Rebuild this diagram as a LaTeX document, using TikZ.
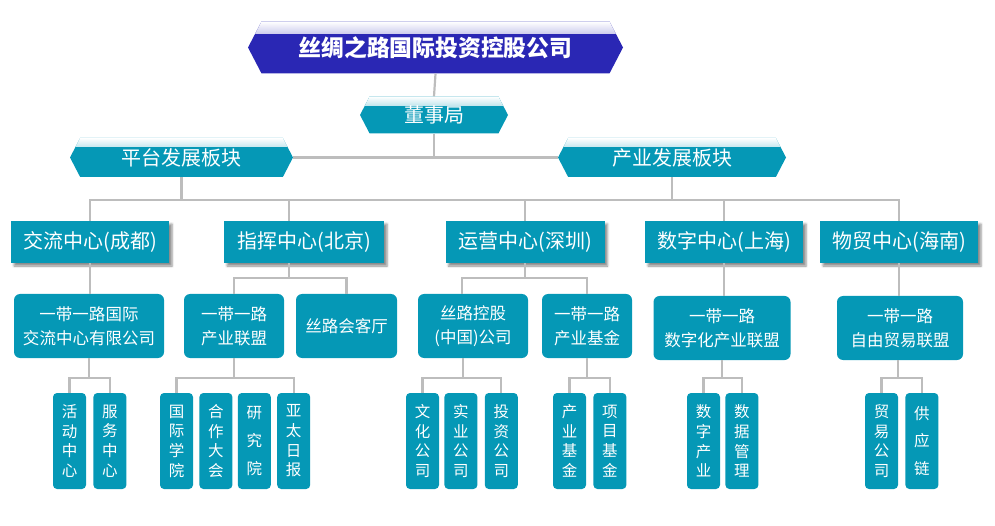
\documentclass[tikz,border=0pt]{standalone}
\usepackage{fontspec}
\setmainfont{Noto Sans CJK SC}
\usetikzlibrary{positioning,shapes.symbols,shadows.blur}
\definecolor{SilkTeal}{HTML}{0598B6}
\definecolor{SilkNavy}{HTML}{2A27B4}
\definecolor{SilkLine}{HTML}{BDBDBD}

\begin{document}
\begin{tikzpicture}[x=1pt, y=-1pt, every node/.style={text=white, inner sep=0pt},
    hexbox/.style={shape=signal, signal to=east and west, signal pointer angle=125, fill=SilkTeal, font=\fontsize{20}{22}\selectfont,
      path picture={\shade[top color=white, bottom color=SilkTeal] (path picture bounding box.north west) rectangle ([yshift=-9pt]path picture bounding box.north east);}},
    centerbox/.style={fill=SilkTeal, minimum height=42pt, font=\fontsize{20}{22}\selectfont,
      blur shadow={shadow xshift=3pt, shadow yshift=-3pt, shadow blur steps=4, shadow opacity=45}},
    subbox/.style={fill=SilkTeal, rounded corners=6pt, minimum height=64pt, align=center, font=\fontsize{16.5}{24}\selectfont},
    leafbox/.style={fill=SilkTeal, rounded corners=4pt, minimum width=33pt, minimum height=96pt, align=center, font=\fontsize{15.5}{19.7}\selectfont},
    link/.style={draw=SilkLine, line width=2.2pt}]
  \useasboundingbox (0,0) rectangle (995,526);

  \node[shape=signal, signal to=east and west, signal pointer angle=125, fill=SilkNavy, minimum width=375pt, minimum height=52pt, font=\fontsize{22.8}{26}\selectfont\bfseries,
    path picture={\shade[top color=white, bottom color=SilkNavy] (path picture bounding box.north west) rectangle ([yshift=-12pt]path picture bounding box.north east);}] (hq) at (435.5,47.5) {丝绸之路国际投资控股公司};
  \node[hexbox, minimum width=148pt, minimum height=37pt] (board) at (434,115) {董事局};
  \node[hexbox, minimum width=223pt, minimum height=39pt] (plat) at (181.5,157.5) {平台发展板块};
  \node[hexbox, minimum width=228pt, minimum height=39pt] (ind) at (672,157.5) {产业发展板块};

  \node[centerbox, minimum width=158pt] (jl) at (90,242) {交流中心(成都)};
  \node[centerbox, minimum width=160pt] (zh) at (304,242) {指挥中心(北京)};
  \node[centerbox, minimum width=159pt] (yy) at (525,242) {运营中心(深圳)};
  \node[centerbox, minimum width=158pt] (sz) at (724,242) {数字中心(上海)};
  \node[centerbox, minimum width=158pt] (wm) at (899,242) {物贸中心(海南)};

  \node[subbox, minimum width=150pt] (jlSub) at (89,326) {一带一路国际\\交流中心有限公司};
  \node[subbox, minimum width=100pt] (zhAll) at (234,326) {一带一路\\产业联盟};
  \node[subbox, minimum width=101pt] (zhHall) at (346.5,326) {丝路会客厅};
  \node[subbox, minimum width=110pt] (yyCo) at (473,326) {丝路控股\\(中国)公司};
  \node[subbox, minimum width=90pt] (yyFund) at (587,326) {一带一路\\产业基金};
  \node[subbox, minimum width=137pt] (szAll) at (722,328) {一带一路\\数字化产业联盟};
  \node[subbox, minimum width=126pt] (wmAll) at (900,328) {一带一路\\自由贸易联盟};

  \node[leafbox] (hd) at (69.5,441) {活\\动\\中\\心};
  \node[leafbox, right=7pt of hd] (fw) {服\\务\\中\\心};
  \node[leafbox] (gj) at (176.5,441) {国\\际\\学\\院};
  \node[leafbox, right=6pt of gj] (hz) {合\\作\\大\\会};
  \node[leafbox, right=5pt of hz] (yj) {研\\[8pt]究\\[8pt]院};
  \node[leafbox, right=6pt of yj] (yt) {亚\\太\\日\\报};
  \node[leafbox] (wh) at (422.5,441) {文\\化\\公\\司};
  \node[leafbox, right=5pt of wh] (sy) {实\\业\\公\\司};
  \node[leafbox, right=7pt of sy] (tz) {投\\资\\公\\司};
  \node[leafbox] (cy) at (569.5,441) {产\\业\\基\\金};
  \node[leafbox, right=7pt of cy] (xm) {项\\目\\基\\金};
  \node[leafbox] (sc) at (703.5,441) {数\\字\\产\\业};
  \node[leafbox, right=5pt of sc] (sj) {数\\据\\管\\理};
  \node[leafbox] (my) at (881.5,441) {贸\\易\\公\\司};
  \node[leafbox, right=7pt of my] (gy) {供\\[8pt]应\\[8pt]链};

  \coordinate (busA) at (0,200);
  \draw[link] (hq.south) -- (board.north);
  \draw[link] (plat.east) -- (ind.west);
  \draw[link] (board.south) -- (board.south |- plat.east);
  \draw[link] (jl.north) |- (busA -| wm.north) -- (wm.north);
  \draw[link] (plat.south) -- (plat.south |- busA);
  \draw[link] (ind.south) -- (ind.south |- busA);
  \draw[link] ([xshift=-15pt]zh.north) -- ([xshift=-15pt]zh.north |- busA);
  \draw[link] (yy.north) -- (yy.north |- busA);
  \draw[link] (sz.north) -- (sz.north |- busA);

  \draw[link] (jl.south) -- (jl.south |- jlSub.north);
  \draw[link] ([xshift=-15pt]zh.south) -- ++(0,15);
  \draw[link] (zhAll.north) -- ++(0,-16) -| (zhHall.north);
  \draw[link] (yy.south) -- ++(0,15);
  \draw[link] ([xshift=-11pt]yyCo.north) -- ++(0,-16) -| (yyFund.north);
  \draw[link] (sz.south) -- (sz.south |- szAll.north);
  \draw[link] (wm.south) -- (wm.south |- wmAll.north);

  \draw[link] (jlSub.south) -- ++(0,20);
  \draw[link] (hd.north) -- ++(0,-15) -| (fw.north);
  \draw[link] (zhAll.south) -- ++(0,20);
  \draw[link] (gj.north) -- ++(0,-15) -| (yt.north);
  \draw[link] ([xshift=-10pt]yyCo.south) -- ++(0,20);
  \draw[link] (wh.north) -- ++(0,-15) -| (tz.north);
  \draw[link] (yyFund.south) -- ++(0,20);
  \draw[link] (cy.north) -- ++(0,-15) -| (xm.north);
  \draw[link] (szAll.south) -- ++(0,18);
  \draw[link] (sc.north) -- ++(0,-15) -| (sj.north);
  \draw[link] ([xshift=-2pt]wmAll.south) -- ++(0,18);
  \draw[link] (my.north) -- ++(0,-15) -| (gy.north);
\end{tikzpicture}
\end{document}
